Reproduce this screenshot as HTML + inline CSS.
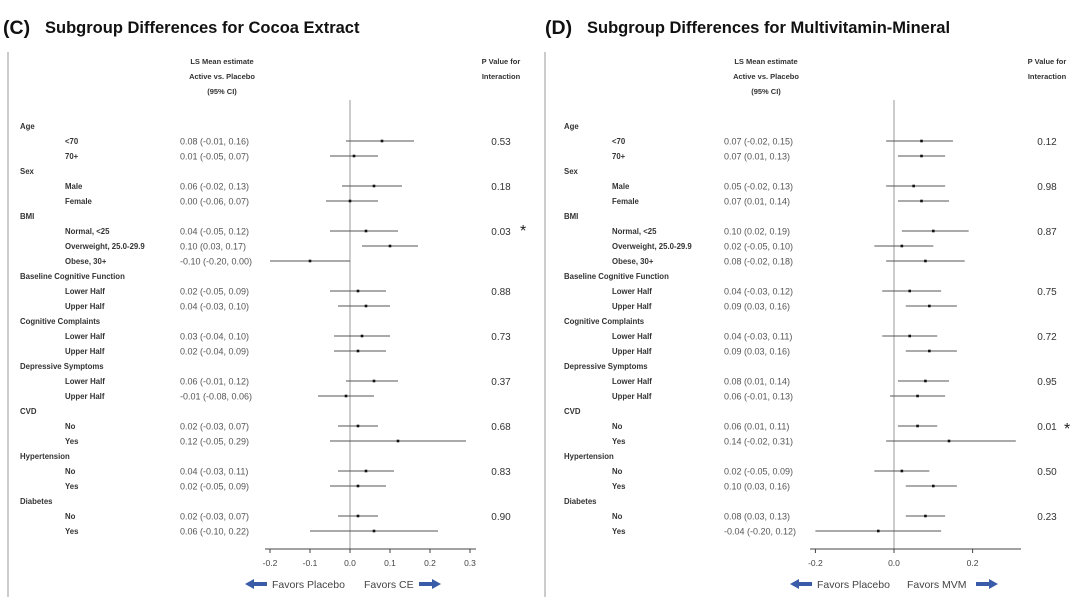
<!DOCTYPE html>
<html><head><meta charset="utf-8"><style>
body{margin:0;width:1080px;height:597px;background:#fff;overflow:hidden;font-family:"Liberation Sans",sans-serif;}
svg text{font-family:"Liberation Sans",sans-serif;}
</style></head><body>
<svg id="s" width="1080" height="597" xmlns="http://www.w3.org/2000/svg"></svg>
<script>
const rowLabels=[["Age",0],["<70",1],["70+",1],["Sex",0],["Male",1],["Female",1],["BMI",0],["Normal, <25",1],["Overweight, 25.0-29.9",1],["Obese, 30+",1],["Baseline Cognitive Function",0],["Lower Half",1],["Upper Half",1],["Cognitive Complaints",0],["Lower Half",1],["Upper Half",1],["Depressive Symptoms",0],["Lower Half",1],["Upper Half",1],["CVD",0],["No",1],["Yes",1],["Hypertension",0],["No",1],["Yes",1],["Diabetes",0],["No",1],["Yes",1]];
// Cocoa extract (C)
const ceEst=[null,0.08,0.01,null,0.06,0.00,null,0.04,0.10,-0.10,null,0.02,0.04,null,0.03,0.02,null,0.06,-0.01,null,0.02,0.12,null,0.04,0.02,null,0.02,0.06];
const ceLo=[null,-0.01,-0.05,null,-0.02,-0.06,null,-0.05,0.03,-0.20,null,-0.05,-0.03,null,-0.04,-0.04,null,-0.01,-0.08,null,-0.03,-0.05,null,-0.03,-0.05,null,-0.03,-0.10];
const ceHi=[null,0.16,0.07,null,0.13,0.07,null,0.12,0.17,-0.00,null,0.09,0.10,null,0.10,0.09,null,0.12,0.06,null,0.07,0.29,null,0.11,0.09,null,0.07,0.22];
const ceP=[null,"0.53",null,null,"0.18",null,null,"0.03",null,null,null,"0.88",null,null,"0.73",null,null,"0.37",null,null,"0.68",null,null,"0.83",null,null,"0.90",null];
const ceTicks=[-0.2,-0.1,0.0,0.1,0.2,0.3];
// Multivitamin (D)
const mvEst=[null,0.07,0.07,null,0.05,0.07,null,0.10,0.02,0.08,null,0.04,0.09,null,0.04,0.09,null,0.08,0.06,null,0.06,0.14,null,0.02,0.10,null,0.08,-0.04];
const mvLo=[null,-0.02,0.01,null,-0.02,0.01,null,0.02,-0.05,-0.02,null,-0.03,0.03,null,-0.03,0.03,null,0.01,-0.01,null,0.01,-0.02,null,-0.05,0.03,null,0.03,-0.20];
const mvHi=[null,0.15,0.13,null,0.13,0.14,null,0.19,0.10,0.18,null,0.12,0.16,null,0.11,0.16,null,0.14,0.13,null,0.11,0.31,null,0.09,0.16,null,0.13,0.12];
const mvP=[null,"0.12",null,null,"0.98",null,null,"0.87",null,null,null,"0.75",null,null,"0.72",null,null,"0.95",null,null,"0.01",null,null,"0.50",null,null,"0.23",null];
const mvTicks=[-0.2,0.0,0.2];

const S=document.getElementById('s');const NS='http://www.w3.org/2000/svg';
function mk(t,a,txt){const e=document.createElementNS(NS,t);for(const k in a)e.setAttribute(k,a[k]);if(txt!=null)e.textContent=txt;S.appendChild(e);return e;}
function fmt(v){return (v<0?'-':'')+Math.abs(v).toFixed(2);}
function panel(o){
  const x=v=>o.x0+v*o.k;
  const y=i=>126+i*15.0;
  let e;
  e=mk('text',{x:o.lx,y:34,'font-size':19.5,'font-weight':'bold',fill:'#111'},o.letter);
  
  e=mk('text',{x:o.lx+42,y:33,'font-size':16.5,'font-weight':'bold',fill:'#111'},o.title);
  
  e=mk('line',{x1:o.bx,y1:52,x2:o.bx,y2:597,stroke:'#bbb','stroke-width':1.5});
  
  [["LS Mean estimate",64],["Active vs. Placebo",79],["(95% CI)",94]].forEach(h=>{
    e=mk('text',{x:o.hx,y:h[1],'font-size':7.5,'font-weight':'bold','text-anchor':'middle',fill:'#333'},h[0]);
    });
  [["P Value for",64],["Interaction",79]].forEach(h=>{
    e=mk('text',{x:o.px,y:h[1],'font-size':7.5,'font-weight':'bold','text-anchor':'middle',fill:'#333'},h[0]);
    });
  e=mk('line',{x1:x(0),y1:100,x2:x(0),y2:549,stroke:'#999','stroke-width':1});
  
  rowLabels.forEach((r,i)=>{
    e=mk('text',{x:r[1]?o.sx:o.cx,y:y(i)+3,'font-size':7.8,'font-weight':'bold',fill:'#333'},r[0]);
    
    if(o.est[i]!=null){
      e=mk('text',{x:o.tx,y:y(i)+3.5,'font-size':9,fill:'#555'},fmt(o.est[i])+' ('+fmt(o.lo[i])+', '+fmt(o.hi[i])+')');
      
      e=mk('line',{x1:x(o.lo[i]),y1:y(i),x2:x(o.hi[i]),y2:y(i),stroke:'#555','stroke-width':1});
      
      e=mk('rect',{x:x(o.est[i])-1.3,y:y(i)-1.3,width:2.6,height:2.6,fill:'#111'});
      
    }
    if(o.p[i]){
      e=mk('text',{x:o.px,y:y(i)+4,'font-size':10,'text-anchor':'middle',fill:'#333'},o.p[i]);
      
    }
  });
  e=mk('line',{x1:o.ax1,y1:549,x2:o.ax2,y2:549,stroke:'#444','stroke-width':1});
  
  o.ticks.forEach(t=>{
    e=mk('line',{x1:x(t),y1:549,x2:x(t),y2:553,stroke:'#444'});
    
    e=mk('text',{x:x(t),y:566,'font-size':8.5,'text-anchor':'middle',fill:'#444'},t.toFixed(1));
    
  });
  const ay=584;
  e=mk('path',{d:`M${o.la} ${ay} l9 -5 v3 h13 v4 h-13 v3 z`,fill:'#3a5ba8'});
  
  e=mk('text',{x:o.la+27,y:ay+4,'font-size':10.5,fill:'#444'},'Favors Placebo');
  
  e=mk('text',{x:o.ra,y:ay+4,'font-size':10.5,fill:'#444'},o.fav);
  
  e=mk('path',{d:`M${o.rae} ${ay} l-9 -5 v3 h-13 v4 h13 v3 z`,fill:'#3a5ba8'});
  
  e=mk('text',{x:o.astx,y:o.asty,'font-size':16,fill:'#222'},'*');
  
}
panel({letter:'(C)',title:'Subgroup Differences for Cocoa Extract',lx:3,bx:8,hx:222,px:501,cx:20,sx:65,tx:180,
  x0:350,k:400,est:ceEst,lo:ceLo,hi:ceHi,p:ceP,ticks:ceTicks,ax1:265,ax2:476,la:245,ra:364,rae:441,fav:'Favors CE',astx:520,asty:236});
panel({letter:'(D)',title:'Subgroup Differences for Multivitamin-Mineral',lx:545,bx:545,hx:766,px:1047,cx:564,sx:612,tx:724,
  x0:894,k:393,est:mvEst,lo:mvLo,hi:mvHi,p:mvP,ticks:mvTicks,ax1:810,ax2:1021,la:790,ra:907,rae:998,fav:'Favors MVM',astx:1064,asty:434});
</script>
</body></html>
